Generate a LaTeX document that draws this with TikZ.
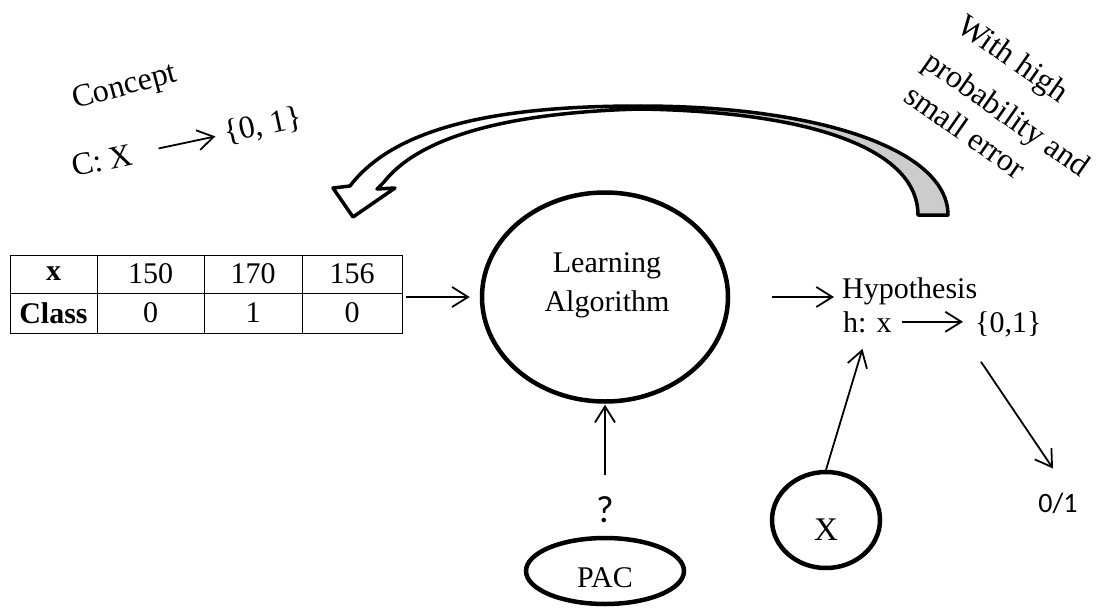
\documentclass[tikz,border=0pt]{standalone}
\usepackage{fontspec}
\setmainfont{Liberation Serif}
\newfontfamily\calfont{Carlito}
\usetikzlibrary{arrows.meta,shapes.geometric}

\begin{document}
\begin{tikzpicture}[x=1pt,y=-1pt,
  txt/.style={inner sep=0pt, font=\fontsize{30}{36}\selectfont},
  bigtxt/.style={inner sep=0pt, font=\fontsize{32}{38}\selectfont},
  sans/.style={inner sep=0pt, font=\calfont\fontsize{28}{34}\selectfont},
  cell/.style={draw, line width=1pt, inner sep=0pt, font=\fontsize{30}{36}\selectfont},
  ring/.style={draw, ellipse, line width=4.5pt, inner sep=0pt},
  arr/.style={line width=1.8pt, -{Straight Barb[length=16pt,width=20pt,line width=1.8pt]}},
  bigarrow/.style={draw, line width=3.5pt, line join=round}
]
\useasboundingbox (0,0) rectangle (1101,608);

% training table
\node[cell, minimum width=87pt,  minimum height=38pt] (c11) at (53.5,274)  {\textbf{x}};
\node[cell, minimum width=107pt, minimum height=38pt] (c12) at (150.5,274) {150};
\node[cell, minimum width=98pt,  minimum height=38pt] (c13) at (253,274)   {170};
\node[cell, minimum width=100pt, minimum height=38pt] (c14) at (352,274)   {156};
\node[cell, minimum width=87pt,  minimum height=40pt] (c21) at (53.5,313)  {\textbf{Class}};
\node[cell, minimum width=107pt, minimum height=40pt] (c22) at (150.5,313) {0};
\node[cell, minimum width=98pt,  minimum height=40pt] (c23) at (253,313)   {1};
\node[cell, minimum width=100pt, minimum height=40pt] (c24) at (352,313)   {0};

% main blocks
\node[ring, minimum width=246pt, minimum height=209pt] (la) at (605,297) {};
\node[txt, align=center, font=\fontsize{30}{39}\selectfont] (latext) at (607,285.5) {Learning\\Algorithm};
\node[ring, minimum width=158pt, minimum height=66pt, text height=32pt, text depth=0pt, font=\fontsize{30}{36}\selectfont] (pac) at (605,571) {PAC};
\node[ring, minimum width=108pt, minimum height=96pt, text height=40pt, text depth=0pt, font=\fontsize{33}{40}\selectfont] (xc) at (826,520) {X};
\node[sans, font=\calfont\fontsize{38}{44}\selectfont] (q) at (605,510) {?};
\node[sans] (zo) at (1058,503) {0/1};

% hypothesis
\node[txt, anchor=base west] (hyp) at (842,298) {Hypothesis};
\node[txt, anchor=base west] (hx) at (843,332) {h: x};
\node[txt, anchor=base west] (s01) at (975,332) {\{0,1\}};

% concept
\node[bigtxt, rotate=15] (concept) at (125,88) {Concept};
\node[bigtxt, anchor=base west, rotate=12] (cx) at (74,177) {C: X};
\node[bigtxt, anchor=base west, rotate=12] (c01) at (226,143) {\{0, 1\}};

% guarantee note, one line per node
\node[bigtxt, rotate=-35, anchor=base west] (note1) at (955,30)  {With high};
\node[bigtxt, rotate=-35, anchor=base west] (note2) at (921,66)  {probability and};
\node[bigtxt, rotate=-35, anchor=base west] (note3) at (902,100) {small error};

% connectors
\draw[arr, shorten <=3pt, shorten >=10pt] (la.west -| c24.east) -- (la.west);
\draw[arr, shorten <=42pt, shorten >=8pt] (la.east) -- (la.east -| hyp.west);
\draw[arr, shorten <=10pt, shorten >=12pt] (hx.east) -- (hx.east -| s01.west);
\draw[arr, shorten <=22pt, shorten >=1pt] (q.north) -- (la.south);
\draw[arr, shorten >=17pt] (xc.north) -- (hx.south);
\draw[arr] ([shift={(6,25)}]s01.south west) -- ([shift={(-5,-24)}]zo.north);
\draw[arr, shorten <=27pt, shorten >=9pt] (cx.east) -- (c01.west);

% feedback ribbon arrow: back face (grey) and front face with head
\filldraw[bigarrow, fill=gray!40] (640,106) .. controls (820,106) and (948,150) .. (948,215)
  -- (918,215) .. controls (918,152) and (820,112) .. (640,109) -- cycle;
\filldraw[bigarrow, fill=white] (640,106) .. controls (520,106) and (400,120) .. (350,186)
  -- (333,188) -- (353,217) -- (395,188) -- (377,189) -- (384,182)
  .. controls (425,130) and (530,112) .. (640,109) -- cycle;
\end{tikzpicture}
\end{document}
